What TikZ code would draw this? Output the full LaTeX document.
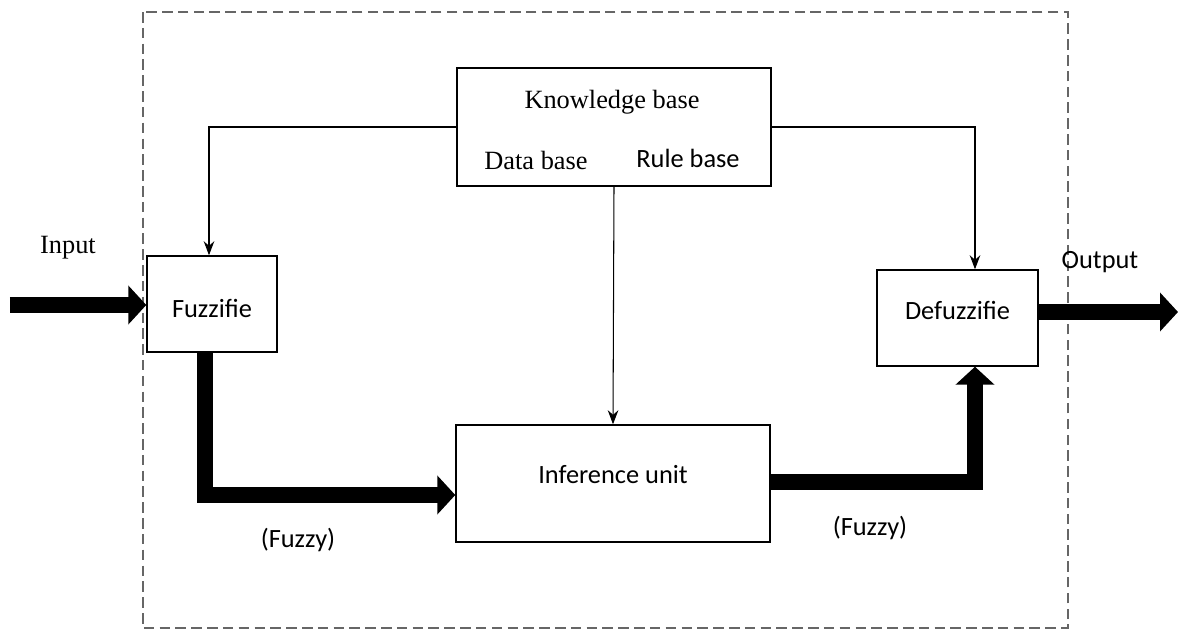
\documentclass[tikz,border=0pt]{standalone}
\usepackage{fontspec}
\setmainfont{Liberation Serif}
\newfontfamily\calibfont{Carlito}
\usepackage{tikz}
\usetikzlibrary{calc, arrows.meta, positioning}

\begin{document}
\begin{tikzpicture}[auto, >=latex, font=\fontsize{15}{18}\selectfont]
		\tikzstyle{block} = [draw=black, line width=0.8pt, rectangle, font=\fontsize{15}{18}\selectfont\calibfont]
		\tikzstyle{thinarrow} = [line width=0.6pt, -{Stealth[length=8pt, width=6pt]}]
		\tikzstyle{fatarrow} = [line width=0.32cm, line join=miter, -{Triangle[length=0.36cm, width=0.76cm]}]
		\tikzstyle{sanslabel} = [font=\fontsize{15}{18}\selectfont\calibfont]
		
		\useasboundingbox (0, 0) rectangle (23.6, -12.64);
		\draw[gray!80!black, line width=0.8pt, dash pattern=on 6pt off 3pt] (2.86, -0.24) rectangle (21.36, -12.56);
		
		\node[block, minimum width=6.28cm, minimum height=2.36cm]	at (12.28, -2.54)	(kb)	{};
		\node	at (12.24, -2.04)	(kbtitle)	{Knowledge base};
		\node	at (10.72, -3.2)	(database)	{Data base};
		\node[sanslabel]	at (13.76, -3.16)	(rulebase)	{Rule base};
		
		\node[block, minimum width=2.6cm, minimum height=1.92cm, text height=0.56cm]	at (4.24, -6.08)	(fuzz)	{Fuzzifie};
		\node[block, minimum width=3.22cm, minimum height=1.92cm, text depth=0.32cm]	at (19.15, -6.36)	(defuzz)	{Defuzzifie};
		\node[block, minimum width=6.28cm, minimum height=2.34cm, text depth=0.38cm]	at (12.26, -9.67)	(infer)	{Inference unit};
		
		\node	at (1.36, -4.96)	(inlabel)	{Input};
		\node[sanslabel]	at (22.0, -5.24)	(outlabel)	{Output};
		\node[sanslabel]	at (5.96, -10.8)	(fuzzy1)	{(Fuzzy)};
		\node[sanslabel]	at (17.4, -10.56)	(fuzzy2)	{(Fuzzy)};
		
		\coordinate (in) at (0.2, -6.1);
		\coordinate (out) at (23.56, -6.24);
		
		\draw [thinarrow] (kb.west) -| ([xshift=-0.06cm]fuzz.north);
		\draw [thinarrow] (kb.east) -| ([xshift=0.35cm]defuzz.north);
		\draw [thinarrow] (kb.south) -- (infer.north);
		
		\draw [fatarrow] (in) -- (in -| fuzz.west);
		\draw [fatarrow] ([xshift=-0.14cm]fuzz.south) |- ([yshift=-0.23cm]infer.west);
		\draw [fatarrow] ([yshift=0.03cm]infer.east) -| ([xshift=0.35cm]defuzz.south);
		\draw [fatarrow] ([yshift=0.12cm]defuzz.east) -- (out);
	\end{tikzpicture}
\end{document}
